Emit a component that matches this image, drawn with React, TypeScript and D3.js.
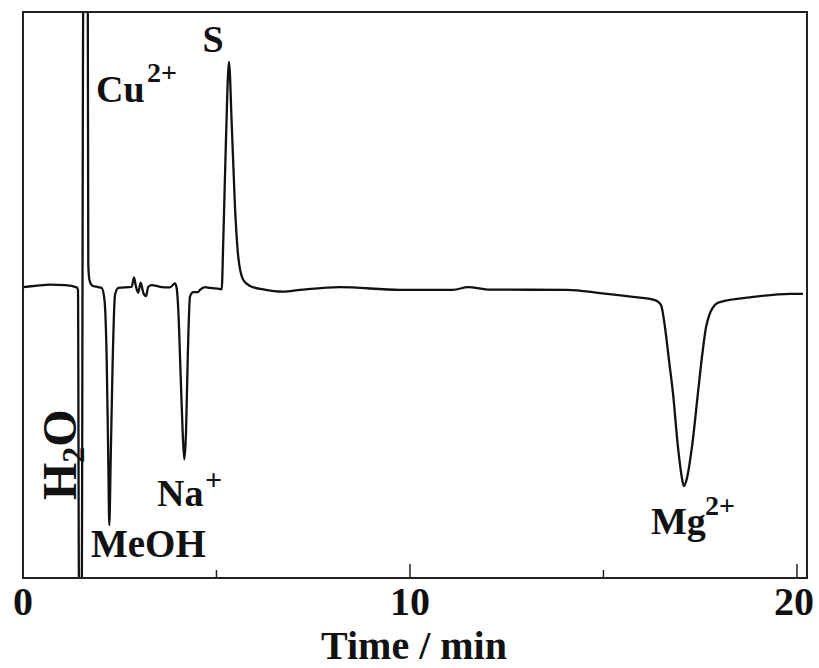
import React, { useEffect, useRef } from "react";
import * as d3 from "d3";

// retention time (min) and detector signal (arbitrary units)
const times = [
  0.0, 0.31, 0.698, 1.085, 1.388, 1.421, 1.447, 1.517, 1.558, 1.674, 1.687, 1.718, 1.783, 1.938,
  2.034, 2.106, 2.163, 2.204, 2.23, 2.266, 2.318, 2.377, 2.463,
  2.809, 2.868, 2.92, 2.979, 3.041, 3.109, 3.178, 3.238, 3.326, 3.54, 3.798, 3.928, 3.972,
  4.013, 4.075, 4.127, 4.168, 4.212, 4.256, 4.315, 4.401, 4.522, 4.574, 4.703, 4.832, 5.09,
  5.134, 5.176, 5.245, 5.323, 5.393, 5.478, 5.563, 5.693, 5.866, 6.209, 6.718, 7.158, 8.191,
  9.742, 11.111, 11.499, 12.067, 14.057, 14.91, 15.762, 16.331, 16.486, 16.589, 16.693, 16.796,
  16.925, 17.028, 17.08, 17.158, 17.287, 17.442, 17.545, 17.649, 17.752, 17.881, 18.01, 18.863,
  19.819, 20.155,
];
const signal = [
  2.8, 3.2, 3.7, 3.5, 2.7, 1.8, -104, -104, 104, 104, 10.6, 5.3, 3.4, 2.8,
  2.5, -1.8, -23, -58.3, -81.3, -58.3, -23, 0, 2.5,
  2.9, 6.2, 2.9, 0.8, 4.4, 0.8, -0.4, 2.9, 3.5, 2.9, 2.7, 4.1, 2.4,
  -5.3, -28.9, -48.8, -58.1, -48.8, -23, -0.6, 1.0, 1.0, 1.8, 2.8, 2.5, 2.1,
  2.0, 19.4, 54.8, 82.4, 60.8, 31.2, 13.5, 5.3, 3.2, 2.0, 1.2, 1.8, 2.8,
  1.8, 1.8, 2.8, 1.9, 1.8, 0.7, -0.7, -1.8, -3.5, -11.3, -23, -34.6,
  -53.7, -64.7, -67.5, -64.7, -53.7, -34.6, -22, -11.5, -6.4, -3.5, -2.5, -0.7,
  0.4, 0.4,
];
const majorTicks = [0, 10, 20];
const minorTicks = [5, 15];

const W = 819;
const H = 668;
const FONT = "'Liberation Serif', 'Times New Roman', serif";

export default function App() {
  const ref = useRef<SVGSVGElement>(null);

  useEffect(() => {
    const svg = d3.select(ref.current);
    svg.selectAll("*").remove();

    const left = 23, right = 807, top = 12, bottom = 578;
    const x = d3.scaleLinear().domain([0, 20.26]).range([left, right]);
    const y = d3.scaleLinear().domain([-100, 100]).range([bottom, top]);

    svg.append("clipPath").attr("id", "plot")
      .append("rect").attr("x", left).attr("y", top)
      .attr("width", right - left).attr("height", bottom - top);

    const pts = times.map((t, i) => [t, signal[i]] as [number, number]);
    const line = d3.line<[number, number]>()
      .x((d) => x(d[0]))
      .y((d) => y(d[1]))
      .curve(d3.curveMonotoneX);

    svg.append("path")
      .attr("d", line(pts))
      .attr("clip-path", "url(#plot)")
      .attr("fill", "none")
      .attr("stroke", "#111")
      .attr("stroke-width", 2.3)
      .attr("stroke-linejoin", "round");

    // ticks, pointing inward
    svg.selectAll("line.major").data(majorTicks).enter().append("line")
      .attr("x1", (d) => x(d)).attr("x2", (d) => x(d))
      .attr("y1", bottom).attr("y2", bottom - 14)
      .attr("stroke", "#222").attr("stroke-width", 1.5);
    svg.selectAll("line.minor").data(minorTicks).enter().append("line")
      .attr("x1", (d) => x(d)).attr("x2", (d) => x(d))
      .attr("y1", bottom).attr("y2", bottom - 8)
      .attr("stroke", "#222").attr("stroke-width", 1.5);

    svg.append("rect")
      .attr("x", left).attr("y", top)
      .attr("width", right - left).attr("height", bottom - top)
      .attr("fill", "none").attr("stroke", "#222").attr("stroke-width", 2);

    const txt = (s: string, px: number, py: number, size: number, anchor = "start") =>
      svg.append("text")
        .attr("x", px).attr("y", py)
        .attr("text-anchor", anchor)
        .attr("font-family", FONT)
        .attr("font-weight", "bold")
        .attr("font-size", size)
        .attr("fill", "#111")
        .text(s);

    majorTicks.forEach((d) => txt(String(d), x(d) - (d === 20 ? 3 : 0), 614.5, 40, "middle"));
    txt("Time / min", 414, 659.3, 40, "middle");

    txt("S", 213, 52, 38, "middle");
    txt("Cu", 96, 102, 38);
    txt("2+", 147, 82, 28);
    txt("MeOH", 91, 557, 39);
    txt("Na", 157, 506, 38);
    txt("+", 205, 490, 30);
    txt("Mg", 651, 534, 38);
    txt("2+", 705, 515, 28);

    const h2o = svg.append("text")
      .attr("transform", "translate(76,500) rotate(-90)")
      .attr("font-family", FONT)
      .attr("font-weight", "bold")
      .attr("font-size", 48)
      .attr("fill", "#111");
    h2o.append("tspan").text("H");
    h2o.append("tspan").attr("font-size", 32).attr("dy", 8).text("2");
    h2o.append("tspan").attr("dy", -8).text("O");
  }, []);

  return (
    <svg
      ref={ref}
      width={W}
      height={H}
      style={{ position: "absolute", left: 0, top: 0, background: "#fff" }}
    />
  );
}
